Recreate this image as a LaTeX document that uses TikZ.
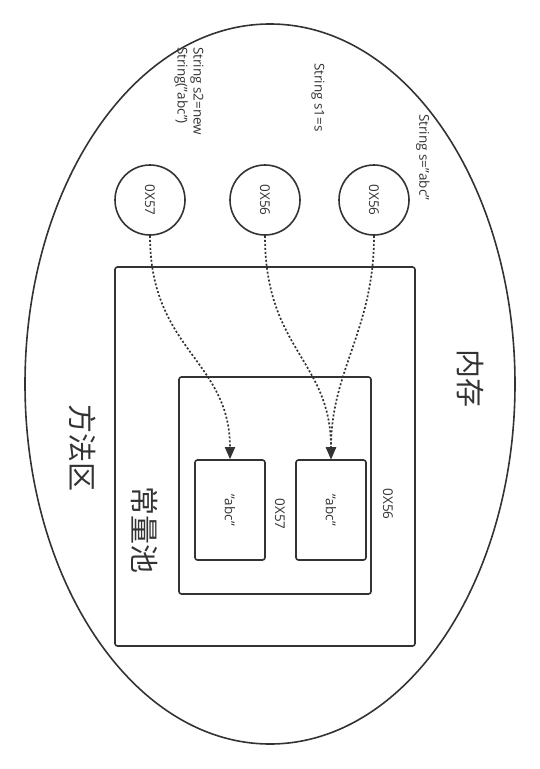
\documentclass[tikz,border=0pt]{standalone}
\usepackage{fontspec}
\setmainfont{Open Sans}
\newfontfamily\cjk{Noto Sans CJK SC}
\usetikzlibrary{arrows.meta,shapes.geometric}
\definecolor{ln}{HTML}{333333}
\begin{document}
\begin{tikzpicture}[x=1pt,y=-1pt,
  shp/.style={draw=ln,line width=1.6pt},
  rbox/.style={shp,rounded corners=2.5pt},
  ptr/.style={circle,shp,minimum size=70pt,inner sep=0pt},
  lbl/.style={rotate=-90,font=\fontsize{13.5}{16}\selectfont,text=ln,inner sep=0pt},
  big/.style={rotate=-90,font=\cjk\fontsize{29}{32}\selectfont,text=ln,inner sep=0pt},
  ref/.style={draw=ln,line width=1.7pt,dash pattern=on 2pt off 2pt,-{Triangle[length=12pt,width=10pt]}}]
\useasboundingbox (0,0) rectangle (540,769);
\node[shp,ellipse,minimum width=490pt,minimum height=720pt,inner sep=0pt] (mem) at (270,384) {};
\node[rbox,minimum width=300pt,minimum height=379pt,inner sep=0pt] (ma) at (265,456.5) {};
\node[rbox,minimum width=192pt,minimum height=217pt,inner sep=0pt] (cp) at (275,485.5) {};
\node[rbox,minimum width=70pt,minimum height=100pt,inner sep=0pt] (b1) at (230,510) {};
\node[rbox,minimum width=70pt,minimum height=100pt,inner sep=0pt] (b2) at (331,510) {};
\node[lbl] (t1) at (230,510) {\char"22abc\char"22};
\node[lbl] (t2) at (331,510) {\char"22abc\char"22};
\node[ptr] (c1) at (150,200) {};
\node[ptr] (c2) at (265,200) {};
\node[ptr] (c3) at (374,200) {};
\node[lbl] (c1t) at (150,200) {0X57};
\node[lbl] (c2t) at (265,200) {0X56};
\node[lbl] (c3t) at (374,200) {0X56};
\node[lbl,anchor=west,align=left] (s2) at (189,47) {String s2=new\\String(\char"22abc\char"22)};
\node[lbl,anchor=west] (s1) at (318,63) {String s1=s};
\node[lbl,anchor=west] (s0) at (423,114) {String s=\char"22abc\char"22};
\node[lbl] (a56) at (388,504) {0X56};
\node[lbl] (a57) at (280,514) {0X57};
\node[big] (nc) at (470,378) {内存};
\node[big] (ff) at (83,448) {方法区};
\node[big] (cl) at (145,530) {常量池};
\draw[ref] (c1.south) .. controls (150,350) and (230,360) .. (b1.north);
\draw[ref] (c2.south) .. controls (265,350) and (331,360) .. (b2.north);
\draw[ref] (c3.south) .. controls (374,330) and (331,370) .. (b2.north);
\end{tikzpicture}
\end{document}
